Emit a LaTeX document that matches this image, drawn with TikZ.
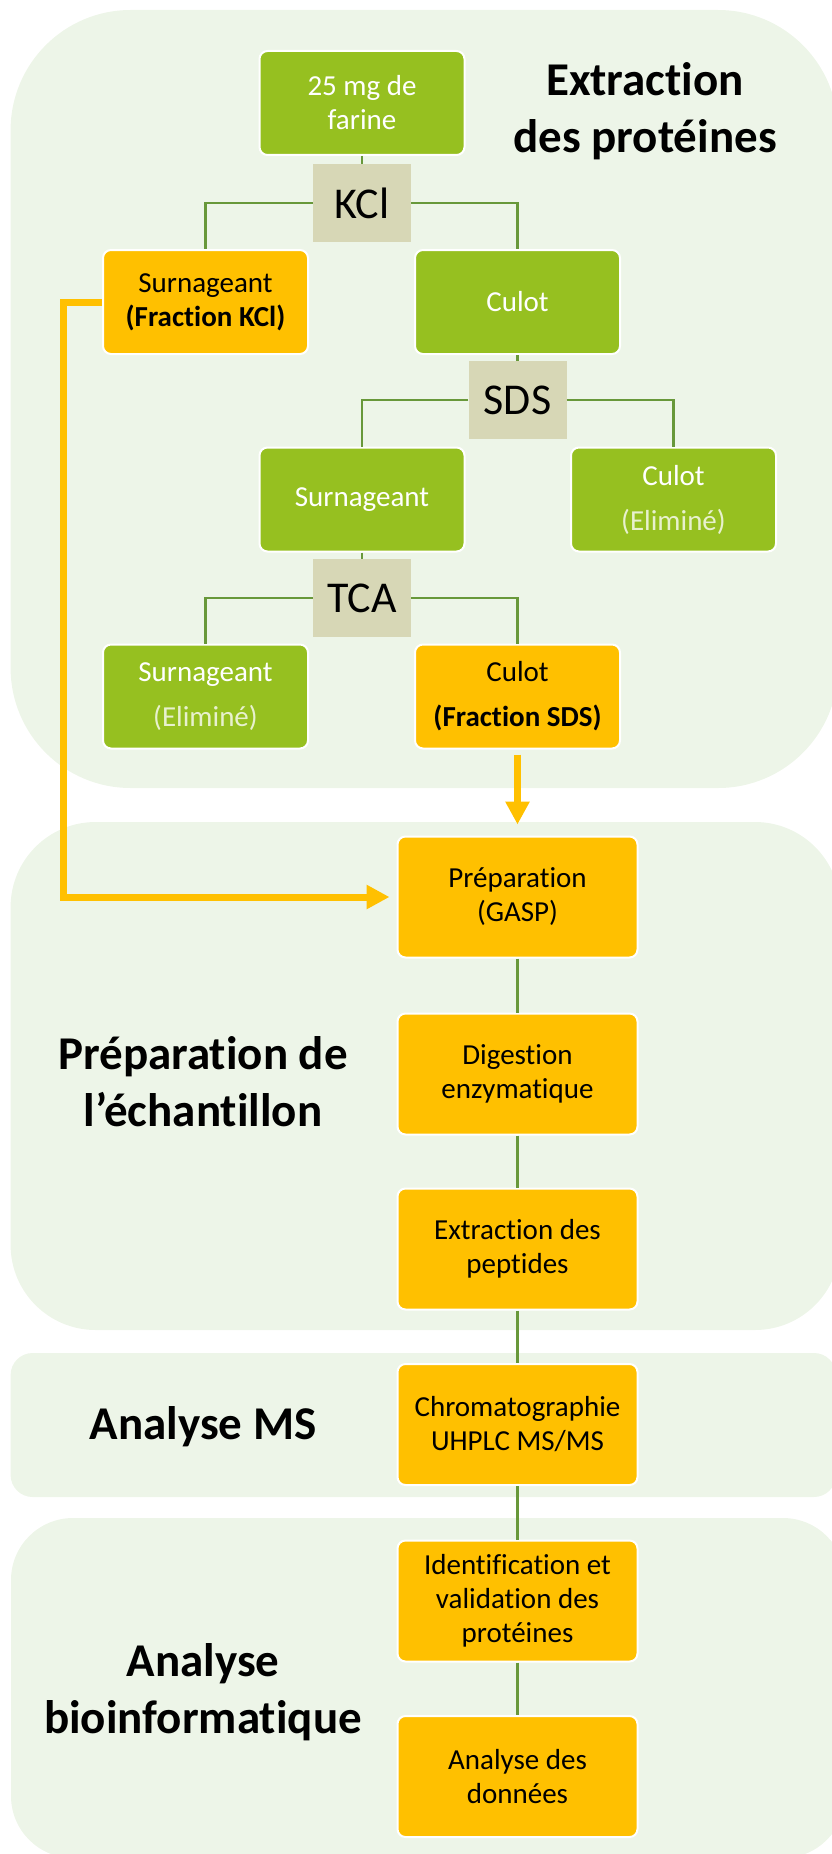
\documentclass[tikz,border=0pt]{standalone}
\usepackage{fontspec}
\setmainfont{Carlito}[Ligatures=NoCommon]
\usetikzlibrary{arrows.meta}

\definecolor{panelgreen}{RGB}{237,245,232}
\definecolor{boxgreen}{RGB}{150,192,32}
\definecolor{boxorange}{RGB}{255,192,0}
\definecolor{saltgrey}{RGB}{215,215,182}
\definecolor{linkgreen}{RGB}{104,152,58}

\begin{document}
\begin{tikzpicture}[x=1pt, y=-1pt, >={Triangle[width=23pt,length=23pt]},
  panel/.style={fill=panelgreen},
  stepbox/.style={draw=white, line width=2pt, rounded corners=8pt, align=center,
    inner sep=0pt, font=\fontsize{29}{34}\selectfont},
  greenbox/.style={stepbox, fill=boxgreen, text=white,
    minimum width=205pt, minimum height=104pt},
  orangebox/.style={stepbox, fill=boxorange, text=black,
    minimum width=205pt, minimum height=104pt},
  colbox/.style={stepbox, fill=boxorange, text=black,
    minimum width=240pt, minimum height=121pt},
  salt/.style={fill=saltgrey, inner sep=0pt, minimum width=98pt,
    minimum height=78pt, font=\fontsize{44}{50}\selectfont},
  phase/.style={align=center, font=\bfseries\fontsize{47}{57}\selectfont},
  link/.style={draw=linkgreen, line width=2.5pt},
  feed/.style={->, draw=boxorange, line width=7pt}]
  \useasboundingbox (0,0) rectangle (832,1854);
  % fonds des etapes
  \fill[panel, rounded corners=120pt] (10.6,10) rectangle (838,788);
  \fill[panel, rounded corners=85pt] (10.6,822) rectangle (840,1330);
  \fill[panel, rounded corners=22pt] (10.6,1353) rectangle (836,1497);
  \fill[panel, rounded corners=62pt] (11,1518) rectangle (845,1858);
  % titres
  \node[phase] (tExtr) at (645,111) {Extraction\\des protéines};
  \node[phase] (tPrep) at (203,1082) {Préparation de\\l’échantillon};
  \node[phase] (tMS) at (203,1427) {Analyse MS};
  \node[phase] (tBio) at (203,1692) {Analyse\\bioinformatique};
  % extraction : KCl, SDS, TCA
  \node[greenbox] (farine) at (362,103) {25 mg de\\farine};
  \node[salt] (kcl) at (362,203) {KCl};
  \node[orangebox] (surnKCl) at (205.5,302) {Surnageant\\\textbf{(Fraction KCl)}};
  \node[greenbox] (culotA) at (517.5,302) {Culot};
  \node[salt] (sds) at (517.5,400) {SDS};
  \node[greenbox] (surnB) at (362,499.5) {Surnageant};
  \node[greenbox] (culotB) at (673.5,499.5) {Culot\\[11pt]\color{white!78!boxgreen}(Eliminé)};
  \node[salt] (tca) at (362,598) {TCA};
  \node[greenbox] (surnC) at (205.5,696.5) {Surnageant\\[11pt]\color{white!78!boxgreen}(Eliminé)};
  \node[orangebox] (culotSDS) at (517.5,696.5) {Culot\\[11pt]\textbf{(Fraction SDS)}};
  % chaine d'analyse
  \node[colbox] (prep) at (517.5,897) {Préparation\\(GASP)};
  \node[colbox] (digest) at (517.5,1074) {Digestion\\enzymatique};
  \node[colbox] (pept) at (517.5,1249) {Extraction des\\peptides};
  \node[colbox] (chromato) at (517.5,1424.5) {Chromatographie\\UHPLC MS/MS};
  \node[colbox] (ident) at (517.5,1601) {Identification et\\validation des\\protéines};
  \node[colbox] (donnees) at (517.5,1776.5) {Analyse des\\données};
  % liaisons
  \draw[link] (farine) -- (kcl);
  \draw[link] (kcl.west) -| (surnKCl.north);
  \draw[link] (kcl.east) -| (culotA.north);
  \draw[link] (culotA) -- (sds);
  \draw[link] (sds.west) -| (surnB.north);
  \draw[link] (sds.east) -| (culotB.north);
  \draw[link] (surnB) -- (tca);
  \draw[link] (tca.west) -| (surnC.north);
  \draw[link] (tca.east) -| (culotSDS.north);
  \draw[link] (prep) -- (digest);
  \draw[link] (digest) -- (pept);
  \draw[link] (pept) -- (chromato);
  \draw[link] (chromato) -- (ident);
  \draw[link] (ident) -- (donnees);
  % fractions vers la preparation
  \coordinate (retour) at (63,302);
  \draw[feed, shorten <=5pt, shorten >=11pt] (culotSDS.south) -- (prep.north);
  \draw[feed, shorten >=7pt] (surnKCl.west) -- (retour) |- (prep.west);
\end{tikzpicture}
\end{document}
